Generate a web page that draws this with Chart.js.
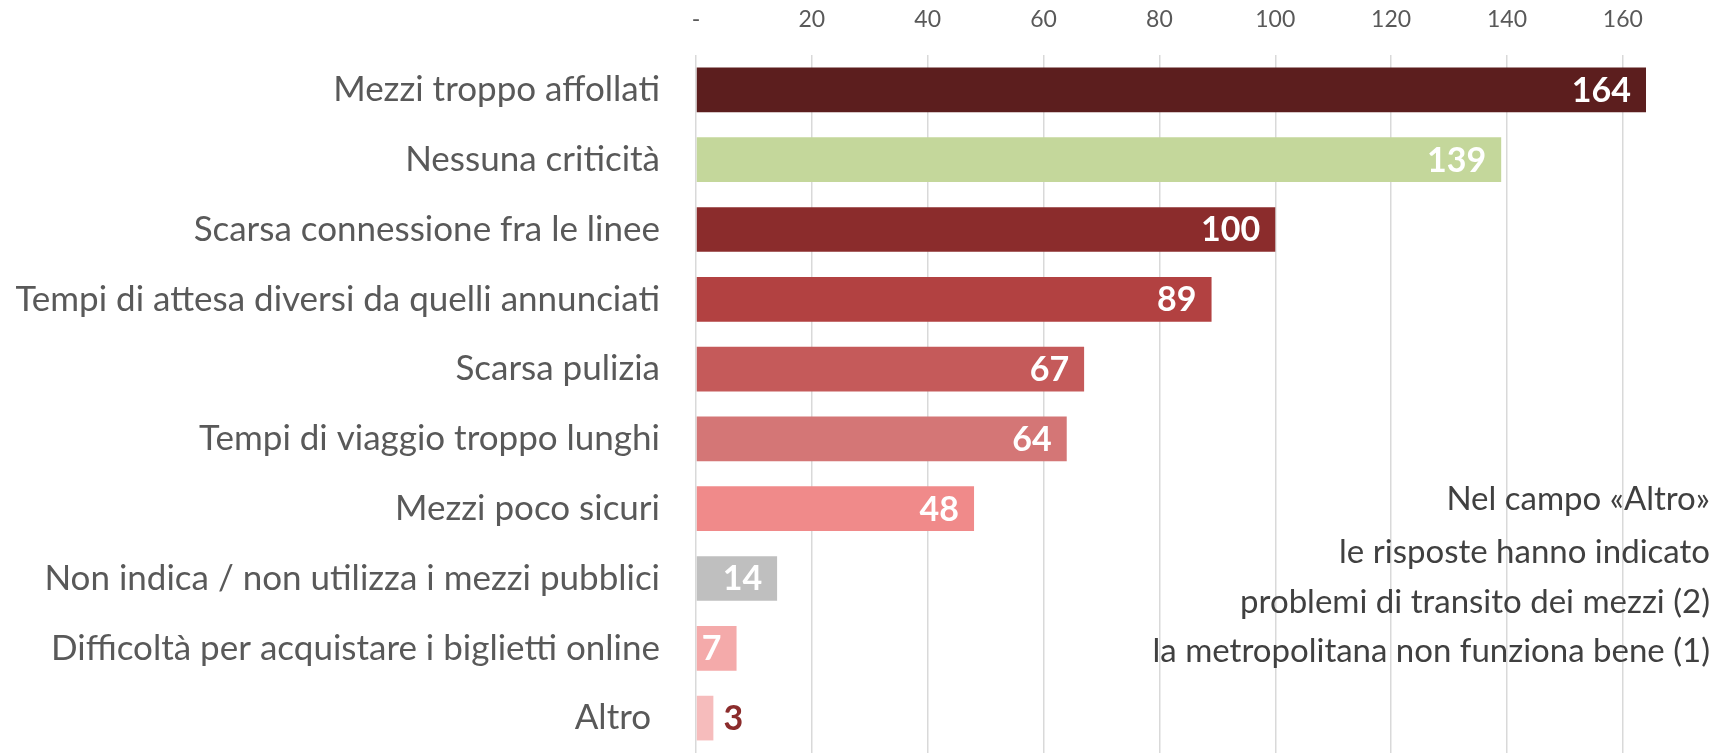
<!DOCTYPE html>
<html>
<head>
<meta charset="utf-8">
<script src="https://cdn.jsdelivr.net/npm/chart.js@4"></script>
<style>
  body { margin: 0; background: #fff; }
</style>
</head>
<body>
<canvas id="barChart" width="1730" height="753"></canvas>
<script>
var categories = [
    'Mezzi troppo affollati',
    'Nessuna criticità',
    'Scarsa connessione fra le linee',
    'Tempi di attesa diversi da quelli annunciati',
    'Scarsa pulizia',
    'Tempi di viaggio troppo lunghi',
    'Mezzi poco sicuri',
    'Non indica / non utilizza i mezzi pubblici',
    'Difficoltà per acquistare i biglietti online',
    'Altro '
];
var values = [164, 139, 100, 89, 67, 64, 48, 14, 7, 3];
var barColors = ['#5c1e1e', '#c4d79b', '#8b2c2c', '#b24141', '#c55a5a',
                 '#d47676', '#f08a8a', '#bfbfbf', '#f4aaaa', '#f6bcbc'];
var xTicks = [0, 20, 40, 60, 80, 100, 120, 140, 160];
var noteLines = [
    'Nel campo «Altro»',
    'le risposte hanno indicato',
    'problemi di transito dei mezzi (2)',
    'la metropolitana non funziona bene (1)'
];

var fontName = 'Lato';
var grey = '#595959';

// value labels: inside the bar end, outside when the bar is too short
var valueLabels = {
    id: 'valueLabels',
    afterDatasetsDraw: function (chart) {
        var ctx = chart.ctx;
        var meta = chart.getDatasetMeta(0);
        ctx.save();
        ctx.font = 'bold 34px ' + fontName;
        ctx.textBaseline = 'middle';
        meta.data.forEach(function (bar, i) {
            var v = values[i];
            if (v < 5) {
                ctx.textAlign = 'left';
                ctx.fillStyle = '#8b2c2c';
                ctx.fillText(v, bar.x + 10, bar.y + 1);
            } else {
                ctx.textAlign = 'right';
                ctx.fillStyle = '#ffffff';
                ctx.fillText(v, bar.x - 15, bar.y + 1);
            }
        });
        ctx.restore();
    }
};

// free text note on the right side
var noteText = {
    id: 'noteText',
    afterDraw: function (chart) {
        var ctx = chart.ctx;
        ctx.save();
        ctx.font = '33px ' + fontName;
        ctx.fillStyle = '#404040';
        ctx.textAlign = 'right';
        ctx.textBaseline = 'middle';
        var ys = [499, 552, 602, 651];
        noteLines.forEach(function (line, i) {
            ctx.fillText(line, 1710, ys[i]);
        });
        ctx.restore();
    }
};

var barChart = new Chart(document.getElementById('barChart').getContext('2d'), {
    type: 'bar',
    data: {
        labels: categories,
        datasets: [{
            data: values,
            backgroundColor: barColors,
            barPercentage: 0.8,
            categoryPercentage: 0.8
        }]
    },
    options: {
        indexAxis: 'y',
        responsive: false,
        animation: false,
        layout: { padding: 0 },
        plugins: {
            legend: { display: false },
            tooltip: { enabled: false }
        },
        scales: {
            x: {
                position: 'top',
                min: 0,
                max: 178.5,
                afterBuildTicks: function (scale) {
                    scale.ticks = xTicks.map(function (t) { return { value: t }; });
                },
                afterFit: function (scale) {
                    scale.height = 55;
                    scale.paddingLeft = 0;
                    scale.paddingRight = 0;
                },
                border: { display: false },
                grid: { color: '#d9d9d9', lineWidth: 1.5, drawTicks: false },
                ticks: {
                    color: grey,
                    font: { family: fontName, size: 23 },
                    padding: 22,
                    callback: function (v) { return v === 0 ? '-' : v; }
                }
            },
            y: {
                afterFit: function (scale) {
                    scale.width = 696;
                    scale.paddingTop = 0;
                    scale.paddingBottom = 0;
                },
                border: { display: false },
                grid: { display: false, drawTicks: false },
                ticks: {
                    color: grey,
                    font: { family: fontName, size: 35 },
                    padding: 36
                }
            }
        }
    },
    plugins: [valueLabels, noteText]
});
</script>
</body>
</html>
